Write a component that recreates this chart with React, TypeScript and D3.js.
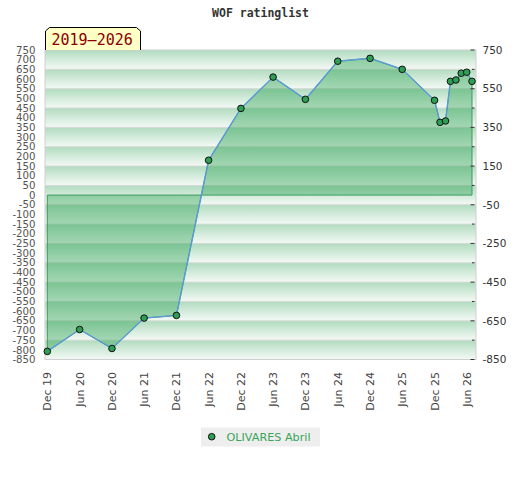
import React from 'react'
import * as d3 from 'd3'

// ratings by month
const months = [
  '2019-12', '2020-06', '2020-12', '2021-06', '2021-12', '2022-06', '2022-12',
  '2023-06', '2023-12', '2024-06', '2024-12', '2025-06', '2025-12', '2026-01',
  '2026-02', '2026-03', '2026-04', '2026-05', '2026-06', '2026-07',
]
const ratings = [
  -808, -695, -793, -636, -622, 180, 448, 610, 495, 692, 707, 650, 490, 376,
  383, 588, 595, 630, 635, 588,
]
const leftTicks = d3.range(750, -851, -50)
const rightTicks = d3.range(750, -851, -100)
const rightLabels = [750, 550, 350, 150, -50, -250, -450, -650, -850]
const seriesName = 'OLIVARES Abril'
const title = 'WOF ratinglist'
const period = '2019–2026'

const W = 520
const H = 480
const plot = { left: 45, right: 476, top: 50, bottom: 359.5 }

export default function App() {
  const parse = d3.utcParse('%Y-%m')
  const dates = months.map((m) => parse(m) as Date)
  const data = dates.map((d, i) => ({ date: d, value: ratings[i] }))

  const x = d3
    .scaleTime()
    .domain([dates[0], dates[dates.length - 1]])
    .range([47.3, 472])
  const y = d3.scaleLinear().domain([-850, 750]).range([plot.bottom, plot.top])

  const xTicks = d3
    .utcMonths(dates[0], d3.utcMonth.offset(dates[dates.length - 1], 1))
    .filter((d) => d.getUTCMonth() === 5 || d.getUTCMonth() === 11)
  const fmt = d3.utcFormat('%b %y')

  const area = d3
    .area<{ date: Date; value: number }>()
    .x((d) => x(d.date))
    .y0(y(0))
    .y1((d) => y(d.value))
  const line = d3
    .line<{ date: Date; value: number }>()
    .x((d) => x(d.date))
    .y((d) => y(d.value))

  const bands = d3.range(750, -850, -100)

  return (
    <svg
      width={W}
      height={H}
      style={{ position: 'absolute', left: 0, top: 0, fontFamily: 'DejaVu Sans' }}
    >
      <defs>
        <linearGradient id="band" x1="0" y1="0" x2="0" y2="1">
          <stop offset="0" stopColor="#b1dbbf" />
          <stop offset="0.5" stopColor="#d3ebdb" />
          <stop offset="1" stopColor="#f4f9f5" />
        </linearGradient>
      </defs>
      <rect width={W} height={H} fill="#fff" />

      <text
        x={260.5}
        y={16.5}
        textAnchor="middle"
        fontFamily="DejaVu Sans Mono"
        fontWeight="bold"
        fontSize={11.5}
        fill="#333"
      >
        {title}
      </text>

      {/* striped background */}
      {bands.map((b) => (
        <rect
          key={b}
          x={plot.left}
          y={y(b)}
          width={plot.right - plot.left}
          height={y(b - 100) - y(b)}
          fill="url(#band)"
        />
      ))}
      {bands.slice(1).map((b) => (
        <line
          key={b}
          x1={plot.left}
          x2={plot.right}
          y1={y(b)}
          y2={y(b)}
          stroke="#d6d9d7"
          strokeWidth={1}
        />
      ))}
      <rect
        x={plot.left}
        y={plot.top}
        width={plot.right - plot.left}
        height={plot.bottom - plot.top}
        fill="none"
        stroke="#d0d0d0"
      />

      {/* area */}
      <path
        d={area(data) || ''}
        fill="#239f4a"
        fillOpacity={0.38}
        stroke="#3a9b5c"
        strokeWidth={1}
      />
      <path d={line(data) || ''} fill="none" stroke="#5b9bd5" strokeWidth={1.4} />
      {data.map((d, i) => (
        <circle
          key={i}
          cx={x(d.date)}
          cy={y(d.value)}
          r={3.3}
          fill="#2e9e55"
          stroke="#111"
          strokeWidth={1}
        />
      ))}

      {/* left axis */}
      {leftTicks.map((t) => (
        <text
          key={t}
          x={35.5}
          y={y(t)}
          dy="0.36em"
          textAnchor="end"
          fontSize={10.2}
          fill="#555"
        >
          {t}
        </text>
      ))}

      {/* right axis */}
      {rightTicks.map((t) => {
        const major = rightLabels.includes(t)
        return (
          <line
            key={t}
            x1={major ? 470.5 : 472}
            x2={474.5}
            y1={y(t)}
            y2={y(t)}
            stroke="#333"
          />
        )
      })}
      {rightLabels.map((t) => (
        <text key={t} x={482.5} y={y(t)} dy="0.36em" fontSize={10.5} fill="#333">
          {t}
        </text>
      ))}

      {/* x axis */}
      {xTicks.map((d) => (
        <text
          key={+d}
          transform={`translate(${x(d)},372) rotate(-90)`}
          textAnchor="end"
          dy="0.36em"
          fontSize={11}
          fill="#444"
        >
          {fmt(d)}
        </text>
      ))}

      {/* period label */}
      <path
        d="M45.5,50 L45.5,31 L49.5,27.5 L136.5,27.5 L140.5,31 L140.5,50"
        fill="#ffffc6"
        stroke="#000"
        strokeWidth={1}
      />
      <text
        x={51.5}
        y={45}
        fontFamily="DejaVu Sans Mono"
        fontSize={15}
        fill="#8b0000"
      >
        {period}
      </text>

      {/* legend */}
      <rect x={201} y={427.5} width={119} height={19} fill="#eeeeee" />
      <circle cx={211.7} cy={436.7} r={3.3} fill="#2e9e55" stroke="#111" />
      <text x={226.5} y={436.7} dy="0.36em" fontSize={11.2} fill="#3aa55a">
        {seriesName}
      </text>
    </svg>
  )
}
